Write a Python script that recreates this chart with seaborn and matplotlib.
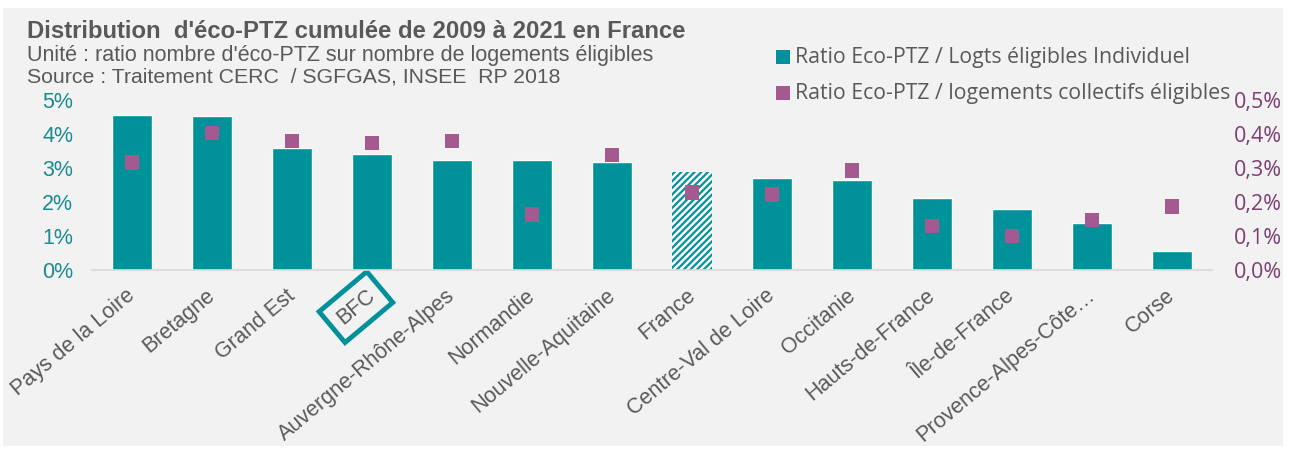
import matplotlib
matplotlib.use("Agg")
import matplotlib.pyplot as plt
from matplotlib.patches import Rectangle
import numpy as np
import pandas as pd
import seaborn as sns

regions = ["Pays de la Loire", "Bretagne", "Grand Est", "BFC", "Auvergne-Rhône-Alpes",
           "Normandie", "Nouvelle-Aquitaine", "France", "Centre-Val de Loire", "Occitanie",
           "Hauts-de-France", "Île-de-France", "Provence-Alpes-Côte…", "Corse"]
ratio_indiv = [4.57, 4.52, 3.58, 3.41, 3.23, 3.23, 3.18, 2.89, 2.71, 2.65, 2.13, 1.78, 1.37, 0.55]
ratio_coll = [0.316, 0.403, 0.380, 0.374, 0.380, 0.164, 0.338, 0.228, 0.222, 0.292, 0.129, 0.100, 0.147, 0.187]
left_ticks = [0, 1, 2, 3, 4, 5]
right_ticks = [0.0, 0.1, 0.2, 0.3, 0.4, 0.5]

teal = "#00919A"
purple = "#A45A91"
grey_txt = "#595959"
bg = "#F2F2F2"

df = pd.DataFrame({"region": regions, "indiv": ratio_indiv, "coll": ratio_coll})

sns.set_style("white")
plt.rcParams['font.family'] = ['Liberation Sans', 'DejaVu Sans']
plt.rcParams['hatch.linewidth'] = 1.6

fig = plt.figure(figsize=(12.91, 4.49), dpi=100)
fig.patches.append(Rectangle((3 / 1291, 3 / 449), 1280 / 1291, 438 / 449,
                             transform=fig.transFigure, facecolor=bg, edgecolor="none", zorder=-10))

ax = fig.add_axes([92 / 1291, 179 / 449, 1120 / 1291, 170 / 449])
ax.set_facecolor("none")
sns.barplot(data=df, x="region", y="indiv", color=teal, width=0.5, saturation=1, ax=ax)
for i, p in enumerate(ax.patches):
    if regions[i] == "France":
        p.set_facecolor("white")
        p.set_edgecolor(teal)
        p.set_hatch("/////")
        p.set_linewidth(0)

ax.set_ylim(0, 5)
ax.set_xlim(-0.5, len(regions) - 0.5)
ax.set_yticks(left_ticks)
ax.set_yticklabels([f"{t}%" for t in left_ticks], color="#1A8A8E", fontsize=15.5)
ax.tick_params(axis="y", length=0, pad=13.5)
ax.set_xlabel("")
ax.set_ylabel("")
for s in ["top", "left", "right"]:
    ax.spines[s].set_visible(False)
ax.spines["bottom"].set_color("#D9D9D9")
ax.spines["bottom"].set_linewidth(1.2)

ax.set_xticks(np.arange(len(regions)) - 0.08)
ax.set_xticklabels(regions, rotation=40, ha="right", rotation_mode="anchor",
                   color=grey_txt, fontsize=15.5)
ax.tick_params(axis="x", length=0, pad=11)
ax.set_xticks(np.arange(len(regions) + 1) - 0.5, minor=True)
ax.tick_params(axis="x", which="minor", length=5, color="#D9D9D9", width=1.2)
for lab in ax.get_xticklabels():
    if lab.get_text() == "BFC":
        lab.set_bbox(dict(boxstyle="square,pad=0.45", facecolor="none", edgecolor=teal, linewidth=3.5))

ax2 = ax.twinx()
ax2.set_facecolor("none")
sns.scatterplot(x=np.arange(len(regions)), y=ratio_coll, marker="s", s=110, color=purple,
                edgecolor="none", ax=ax2, zorder=5)
ax2.set_ylim(0, 0.5)
ax2.set_yticks(right_ticks)
ax2.set_yticklabels([f"{t:.1f}%".replace(".", ",") for t in right_ticks],
                    color="#7B3F72", fontsize=15.5, family=["Open Sans", "DejaVu Sans"])
ax2.tick_params(axis="y", length=0, pad=16)
for s in ["top", "left", "right", "bottom"]:
    ax2.spines[s].set_visible(False)

fig.text(27 / 1291, 1 - 32 / 449, "Distribution  d'éco-PTZ cumulée de 2009 à 2021 en France",
         fontsize=17.2, fontweight="bold", color=grey_txt, va="center")
fig.text(27 / 1291, 1 - 55 / 449, "Unité : ratio nombre d'éco-PTZ sur nombre de logements éligibles",
         fontsize=15.5, color=grey_txt, va="center")
fig.text(27 / 1291, 1 - 77 / 449, "Source : Traitement CERC  / SGFGAS, INSEE  RP 2018",
         fontsize=15.3, color=grey_txt, va="center")

leg_items = [("Ratio Eco-PTZ / Logts éligibles Individuel", teal, 57),
             ("Ratio Eco-PTZ / logements collectifs éligibles", purple, 93)]
for label, col, yy in leg_items:
    fig.patches.append(Rectangle((776 / 1291, 1 - (yy + 7) / 449), 14 / 1291, 14 / 449,
                                 transform=fig.transFigure, facecolor=col, edgecolor="none"))
    fig.text(795 / 1291, 1 - yy / 449, label, fontsize=15.3, color=grey_txt, va="center",
             family=["Open Sans", "DejaVu Sans"])

fig.savefig("out.png", dpi=100, facecolor="white")
